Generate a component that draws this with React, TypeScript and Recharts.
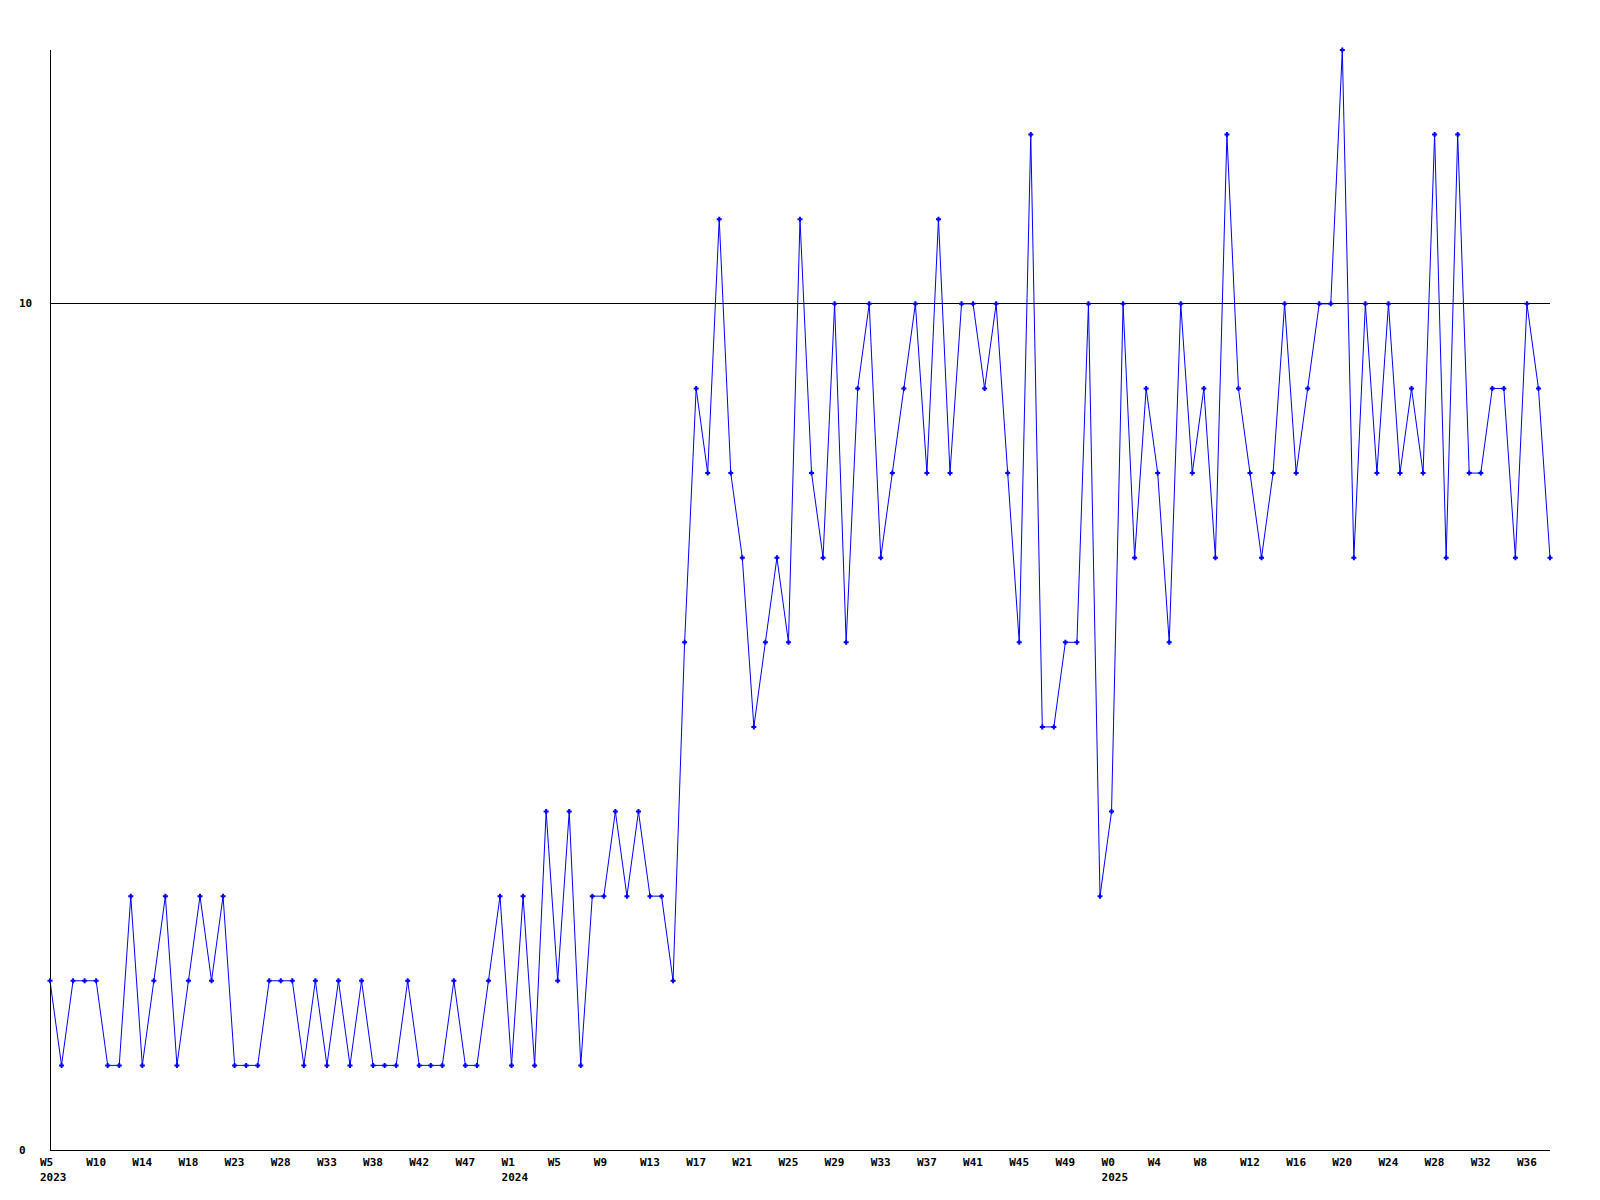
import { Line, LineChart, ReferenceLine, XAxis, YAxis } from 'recharts'

// one value per week (W5 2023 .. W37 2025)
const weeklyCounts = [
  2, 1, 2, 2, 2, 1, 1, 3, 1, 2, 3, 1, 2, 3, 2, 3, 1, 1, 1, 2, 2, 2, 1, 2, 1, 2, 1, 2, 1, 1, 1, 2, 1, 1, 1, 2, 1, 1,
  2, 3, 1, 3, 1, 4, 2, 4, 1, 3, 3, 4, 3, 4, 3, 3, 2,
  6, 9, 8, 11, 8, 7, 5, 6, 7, 6, 11, 8, 7, 10, 6, 9, 10, 7, 8, 9, 10, 8, 11, 8, 10, 10, 9, 10, 8, 6,
  12, 5, 5, 6, 6, 10, 3, 4, 10, 7, 9, 8, 6, 10, 8, 9, 7, 12, 9, 8, 7, 8, 10,
  8, 9, 10, 10, 13, 7, 10, 8, 10, 8, 9, 8, 12, 7, 12, 8, 8, 9, 9, 7, 10, 9, 7,
]

// labels shown under every 4th point
const weekTicks = [
  'W5', 'W10', 'W14', 'W18', 'W23', 'W28', 'W33', 'W38', 'W42', 'W47',
  'W1', 'W5', 'W9', 'W13', 'W17', 'W21', 'W25', 'W29', 'W33', 'W37', 'W41', 'W45', 'W49',
  'W0', 'W4', 'W8', 'W12', 'W16', 'W20', 'W24', 'W28', 'W32', 'W36',
]
const yearLabels = ['2023', '2024', '2025']
const yearTickIndex = [0, 10, 23]

const TICK_EVERY = 4
const yTicks = [0, 10]

const font = '"DejaVu Sans Mono", monospace'

const data = weeklyCounts.map((v, i) => ({ i, v }))
const xTicks = weekTicks.map((_, k) => k * TICK_EVERY)

function WeekTick({ x, y, payload }: any) {
  const k = Math.round(payload.value / TICK_EVERY)
  const yi = yearTickIndex.indexOf(k)
  return (
    <g>
      <text x={x - 10} y={y} textAnchor="start" dominantBaseline="central" fontFamily={font} fontWeight="bold" fontSize={11} fill="#000">
        {weekTicks[k]}
      </text>
      {yi >= 0 && (
        <text x={x - 10} y={y + 15} textAnchor="start" dominantBaseline="central" fontFamily={font} fontWeight="bold" fontSize={11} fill="#000">
          {yearLabels[yi]}
        </text>
      )}
    </g>
  )
}

function ValueTick({ x, y, payload }: any) {
  return (
    <text x={x} y={y} textAnchor="start" dominantBaseline="central" fontFamily={font} fontWeight="bold" fontSize={11} fill="#000">
      {payload.value}
    </text>
  )
}

function PlusDot({ cx, cy }: any) {
  if (cx == null || cy == null) return null
  return (
    <path
      d={`M${cx - 2.5},${cy}h5M${cx},${cy - 2.5}v5`}
      stroke="#0000ff"
      strokeWidth={2}
      fill="none"
    />
  )
}

export default function App() {
  return (
    <div style={{ position: 'absolute', left: 0, top: 0, width: 1600, height: 1200, background: '#fff' }}>
      <LineChart width={1600} height={1200} data={data} margin={{ top: 50, right: 50, bottom: 0, left: 0 }}>
        <XAxis
          dataKey="i"
          type="number"
          domain={[0, weeklyCounts.length - 1]}
          ticks={xTicks}
          interval={0}
          height={50}
          tickLine={false}
          tickSize={0}
          tickMargin={12}
          axisLine={{ stroke: '#000', shapeRendering: 'crispEdges' }}
          tick={<WeekTick />}
        />
        <YAxis
          domain={[0, 13]}
          ticks={yTicks}
          width={50}
          tickLine={false}
          tickSize={0}
          tickMargin={31}
          axisLine={{ stroke: '#000', shapeRendering: 'crispEdges' }}
          tick={<ValueTick />}
        />
        <ReferenceLine y={10} stroke="#000" strokeWidth={1} shapeRendering="crispEdges" />
        <Line
          type="linear"
          dataKey="v"
          stroke="#0000ff"
          strokeWidth={1}
          dot={<PlusDot />}
          activeDot={false}
          isAnimationActive={false}
        />
      </LineChart>
    </div>
  )
}
